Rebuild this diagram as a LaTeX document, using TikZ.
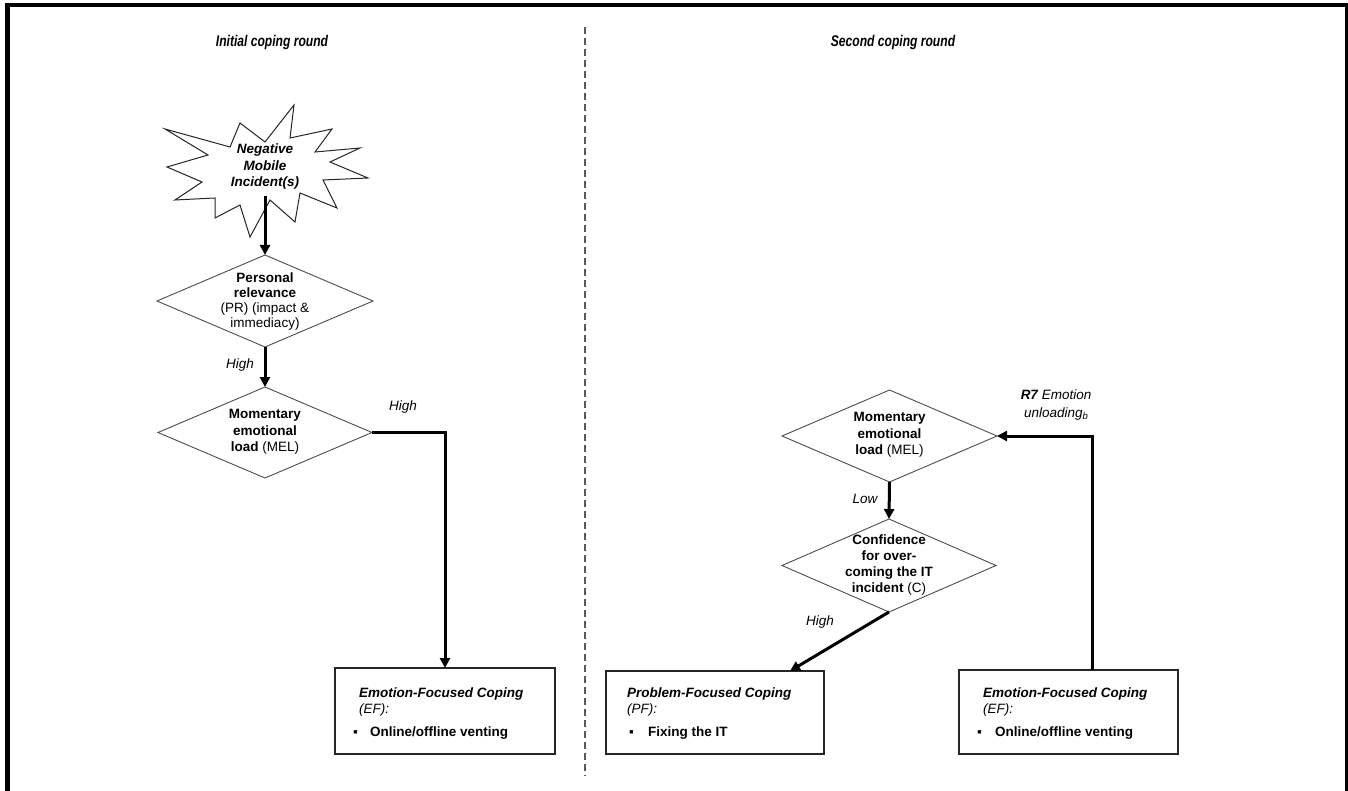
\documentclass[tikz,border=0pt]{standalone}
\usepackage{fontspec}
\setmainfont{Liberation Sans}
\usetikzlibrary{shapes.geometric,arrows.meta,calc}
\begin{document}
\begin{tikzpicture}[x=1pt,y=-1pt,
 dia/.style={diamond, draw=black!70, line width=0.9pt, inner sep=0pt, outer sep=0pt},
 cbox/.style={draw=black!85, line width=1.2pt, inner sep=0pt, outer sep=0pt},
 conn/.style={line width=3pt, -{Triangle[length=10pt,width=10pt]}},
 lbl/.style={font=\fontsize{13.5}{16}\selectfont\itshape, inner sep=0pt},
 dtxt/.style={align=center, font=\fontsize{13.5}{16.5}\selectfont, inner sep=0pt},
 btxt/.style={anchor=base west, inner sep=0pt, font=\fontsize{13.5}{16}\selectfont},
 ttl/.style={font=\fontsize{15.5}{18}\selectfont\bfseries\itshape, inner sep=0pt},
 frame/.style={fill=black}
]
\useasboundingbox (0,0) rectangle (1348,791);
% frame
\fill[frame] (5,3) rectangle (10,791);
\fill[frame] (5,3) rectangle (1348,7.5);
\fill[frame] (1345,3) rectangle (1348,791);
% divider
\coordinate (divtop) at (585,27);
\coordinate (divbot) at (585,776);
\draw[black!65, line width=1.1pt, dash pattern=on 7pt off 4pt] (divtop) -- (divbot);
% titles
\node[ttl] (t1) at (272,42) {\scalebox{0.78}[1]{Initial coping round}};
\node[ttl] (t2) at (893,42) {\scalebox{0.78}[1]{Second coping round}};
% star
\draw[line width=1pt, black!85, fill=white] plot coordinates {
 (165,129) (230,147) (240,123) (265,142) (294,105) (290,138) (332,129) (315,152)
 (360,148) (330,162) (368,178) (323,180) (337,208) (300,193) (295,222) (270,200)
 (250,237) (240,205) (215,218) (215,198) (175,200) (202,182) (167,167) (208,155)} -- cycle;
\node[dtxt, font=\fontsize{13.5}{16.5}\selectfont\bfseries\itshape, inner ysep=6pt] (star) at (265,167) {Negative\\Mobile\\Incident(s)};
% left diamonds
\node[dia, minimum width=216pt, minimum height=92pt] (d1) at (265,301) {};
\node[dtxt, font=\fontsize{13.5}{14.7}\selectfont] (d1t) at (265,301.5) {\textbf{Personal}\\\textbf{relevance}\\(PR) (impact \&\\immediacy)};
\node[dia, minimum width=214pt, minimum height=91pt] (d2) at (265,432.5) {};
\node[dtxt] (d2t) at (265,432) {\textbf{Momentary}\\\textbf{emotional}\\\textbf{load} (MEL)};
% right diamonds
\node[dia, minimum width=215pt, minimum height=92pt] (d3) at (889.5,436) {};
\node[dtxt] (d3t) at (889.5,435) {\textbf{Momentary}\\\textbf{emotional}\\\textbf{load} (MEL)};
\node[dia, minimum width=214pt, minimum height=93pt] (d4) at (889,565.5) {};
\node[dtxt, font=\fontsize{13.5}{16}\selectfont] (d4t) at (889,565) {\textbf{Confidence}\\\textbf{for over-}\\\textbf{coming the IT}\\\textbf{incident} (C)};
% boxes
\node[cbox, minimum width=220pt, minimum height=86pt] (ef1) at (445,711) {};
\node[cbox, minimum width=218pt, minimum height=83pt] (pf) at (715,712.5) {};
\node[cbox, minimum width=219pt, minimum height=84pt] (ef2) at (1068.5,712) {};
% box texts
\node[btxt] (ef1a) at (359,697) {\textbf{\textit{Emotion-Focused Coping}}};
\node[btxt] (ef1b) at (359,713) {\textit{(EF):}};
\node[btxt] (ef1c) at (353,736) {\makebox[17pt][l]{▪}\textbf{Online/offline venting}};
\node[btxt] (pfa) at (627,697) {\textbf{\textit{Problem-Focused Coping}}};
\node[btxt] (pfb) at (627,713) {\textit{(PF):}};
\node[btxt] (pfc) at (629,736) {\makebox[19pt][l]{▪}\textbf{Fixing the IT}};
\node[btxt] (ef2a) at (983,697) {\textbf{\textit{Emotion-Focused Coping}}};
\node[btxt] (ef2b) at (983,713) {\textit{(EF):}};
\node[btxt] (ef2c) at (977,736) {\makebox[18pt][l]{▪}\textbf{Online/offline venting}};
% connectors
\draw[conn] (star.south) -- (d1.north);
\draw[conn] (d1.south) -- (d2.north);
\draw[conn] (d2.east) -| (ef1.north);
\draw[conn] (d3.south) -- (d4.north);
\draw[conn] (d4.south) -- ([xshift=184pt]pf.north west);
\draw[conn] ([xshift=133pt]ef2.north west) |- (d3.east);
% labels
\node[lbl] (l1) at (240,365) {High};
\node[lbl] (l2) at (403,407) {High};
\node[lbl] (l3) at (865,499) {Low};
\node[lbl] (l4) at (820,622) {High};
\node[lbl, align=center, font=\fontsize{13.5}{18}\selectfont\itshape] (l5) at (1056,405) {\textbf{R7} Emotion\\unloading\raisebox{-2.5pt}{\fontsize{9.5}{10}\selectfont b}};
\end{tikzpicture}
\end{document}
